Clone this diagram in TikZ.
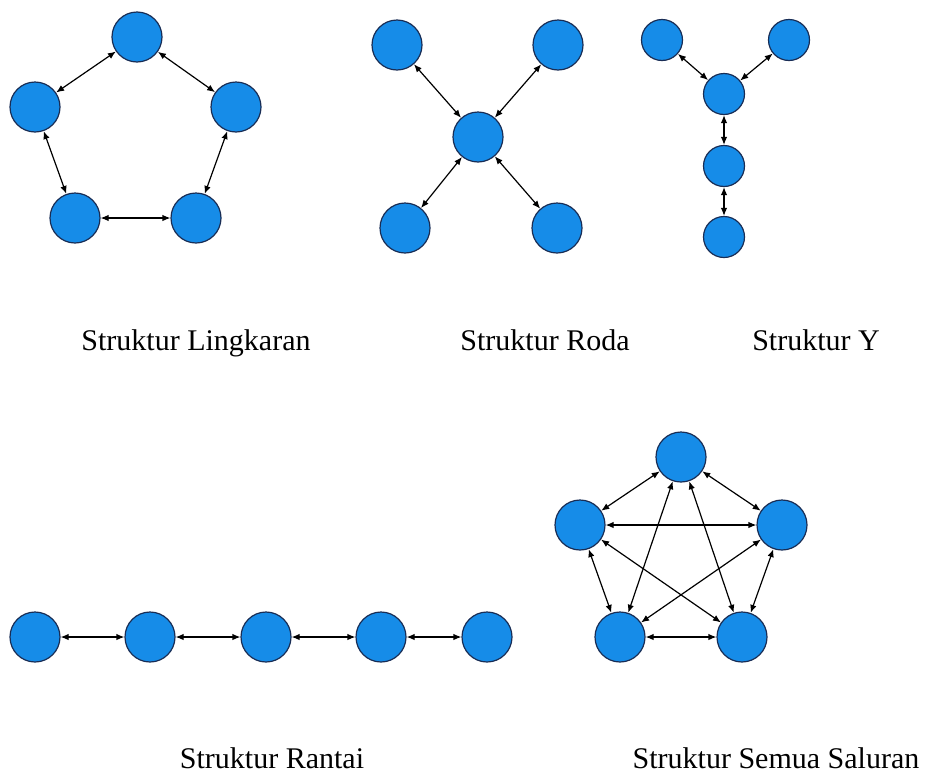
\documentclass[tikz,border=0pt]{standalone}
\usepackage{fontspec}
\setmainfont{Liberation Serif}
\usetikzlibrary{arrows.meta}
\usetikzlibrary{positioning}

\definecolor{nodeblue}{RGB}{22,140,232}
\definecolor{nodeedge}{RGB}{25,45,85}

\begin{document}
\begin{tikzpicture}[x=1pt,y=-1pt,
    titik/.style={circle,draw=nodeedge,fill=nodeblue,line width=1.2pt,inner sep=0pt,minimum size=50pt},
    kecil/.style={titik,minimum size=41pt},
    jalur/.style={{Latex[length=8pt,width=6.5pt]}-{Latex[length=8pt,width=6.5pt]},line width=1.2pt},
    judul/.style={anchor=base,inner sep=0pt,font=\fontsize{30}{34}\selectfont}]
    \useasboundingbox (0,0) rectangle (925,774);
    % lingkaran
    \node[titik] (la) at (137,37) {};
    \node[titik] (lb) at (35,107) {};
    \node[titik] (lc) at (236,107) {};
    \node[titik] (ld) at (75,218) {};
    \node[titik] (le) at (196,218) {};
    \draw[jalur] (la) -- (lb);
    \draw[jalur] (la) -- (lc);
    \draw[jalur] (lb) -- (ld);
    \draw[jalur] (lc) -- (le);
    \draw[jalur] (ld) -- (le);
    \node[judul] (tl) at (196,350) {Struktur Lingkaran};
    % roda
    \node[titik] (rp) at (478,137) {};
    \node[titik] (ra) at (397,45) {};
    \node[titik] (rb) at (558,45) {};
    \node[titik] (rc) at (405,228) {};
    \node[titik] (rd) at (557,228) {};
    \draw[jalur] (rp) -- (ra);
    \draw[jalur] (rp) -- (rb);
    \draw[jalur] (rp) -- (rc);
    \draw[jalur] (rp) -- (rd);
    \node[judul] (tr) at (545,350) {Struktur Roda};
    % Y
    \node[kecil] (ya) at (662,40) {};
    \node[kecil] (yb) at (789,40) {};
    \node[kecil] (yc) at (724,94) {};
    \node[kecil] (yd) at (724,166) {};
    \node[kecil] (ye) at (724,237) {};
    \draw[jalur] (ya) -- (yc);
    \draw[jalur] (yb) -- (yc);
    \draw[jalur] (yc) -- (yd);
    \draw[jalur] (yd) -- (ye);
    \node[judul] (ty) at (816,350) {Struktur Y};
    %
    % rantai
    \node[titik] (ka) at (35,637) {};
    \node[titik] (kb) at (150,637) {};
    \node[titik] (kc) at (266,637) {};
    \node[titik] (kd) at (381,637) {};
    \node[titik] (ke) at (487,637) {};
    \draw[jalur] (ka) -- (kb);
    \draw[jalur] (kb) -- (kc);
    \draw[jalur] (kc) -- (kd);
    \draw[jalur] (kd) -- (ke);
    \node[judul] (tk) at (272,768) {Struktur Rantai};
    % semua saluran
    \node[titik] (sa) at (681,457) {};
    \node[titik] (sb) at (580,525) {};
    \node[titik] (sc) at (782,525) {};
    \node[titik] (sd) at (620,637) {};
    \node[titik] (se) at (742,637) {};
    \draw[jalur] (sa) -- (sb);
    \draw[jalur] (sa) -- (sc);
    \draw[jalur] (sa) -- (sd);
    \draw[jalur] (sa) -- (se);
    \draw[jalur] (sb) -- (sc);
    \draw[jalur] (sb) -- (sd);
    \draw[jalur] (sb) -- (se);
    \draw[jalur] (sc) -- (sd);
    \draw[jalur] (sc) -- (se);
    \draw[jalur] (sd) -- (se);
    \node[judul] (ts) at (776,768) {Struktur Semua Saluran};
\end{tikzpicture}
\end{document}
